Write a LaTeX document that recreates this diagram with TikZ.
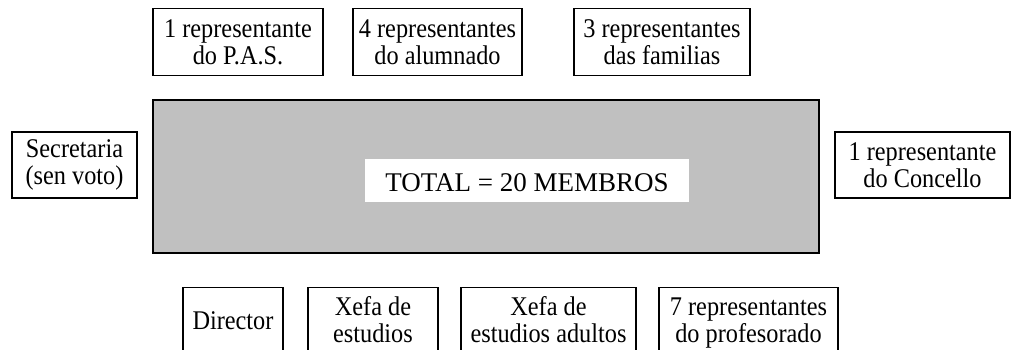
\documentclass[tikz,border=0pt]{standalone}
\usepackage{fontspec}
\setmainfont{Liberation Serif}[FakeStretch=0.9]
\newfontfamily\anchafont{Liberation Serif}
\definecolor{consello}{RGB}{192,192,192}
\begin{document}
\begin{tikzpicture}[
  x=1pt, y=-1pt,
  membro/.style={draw=black, line width=1.2pt, align=center, inner sep=0pt},
  abaixo/.style={membro, anchor=north, text height=55pt, text depth=40pt},
  every node/.style={font=\fontsize{27}{27}\selectfont}
]
  \useasboundingbox (0,0) rectangle (1012,350);

  % consello escolar
  \node[draw=black, line width=1.6pt, fill=consello, minimum width=666pt, minimum height=153pt] (total) at (486,176.5) {};
  \node[fill=white, inner sep=0pt, text height=21pt, text depth=0pt, minimum width=324pt, minimum height=43pt,
        font=\anchafont\fontsize{27}{27}\selectfont] (suma) at (527,180.5) {TOTAL = 20 MEMBROS};

  % arriba
  \node[membro, minimum width=170pt, minimum height=67pt] (pas) at (238,42) {1 representante\\do P.A.S.};
  \node[membro, minimum width=169pt, minimum height=67pt] (alum) at (437.5,42) {4 representantes\\do alumnado};
  \node[membro, minimum width=176pt, minimum height=67pt] (fam) at (662,42) {3 representantes\\das familias};

  % laterais
  \node[membro, minimum width=125pt, minimum height=66pt] (secr) at (74.5,165) {Secretaria\\(sen voto)};
  \node[membro, minimum width=175pt, minimum height=66pt] (conc) at (922.5,165) {1 representante\\do Concello};

  % abaixo
  \node[abaixo, text height=42pt, minimum width=100pt] (dir) at (233,287) {Director};
  \node[abaixo, minimum width=130pt] (xefe) at (373,287) {Xefa de\\estudios};
  \node[abaixo, minimum width=175pt] (xefa) at (548.5,287) {Xefa de\\estudios adultos};
  \node[abaixo, minimum width=179pt] (prof) at (748.5,287) {7 representantes\\do profesorado};
\end{tikzpicture}
\end{document}
